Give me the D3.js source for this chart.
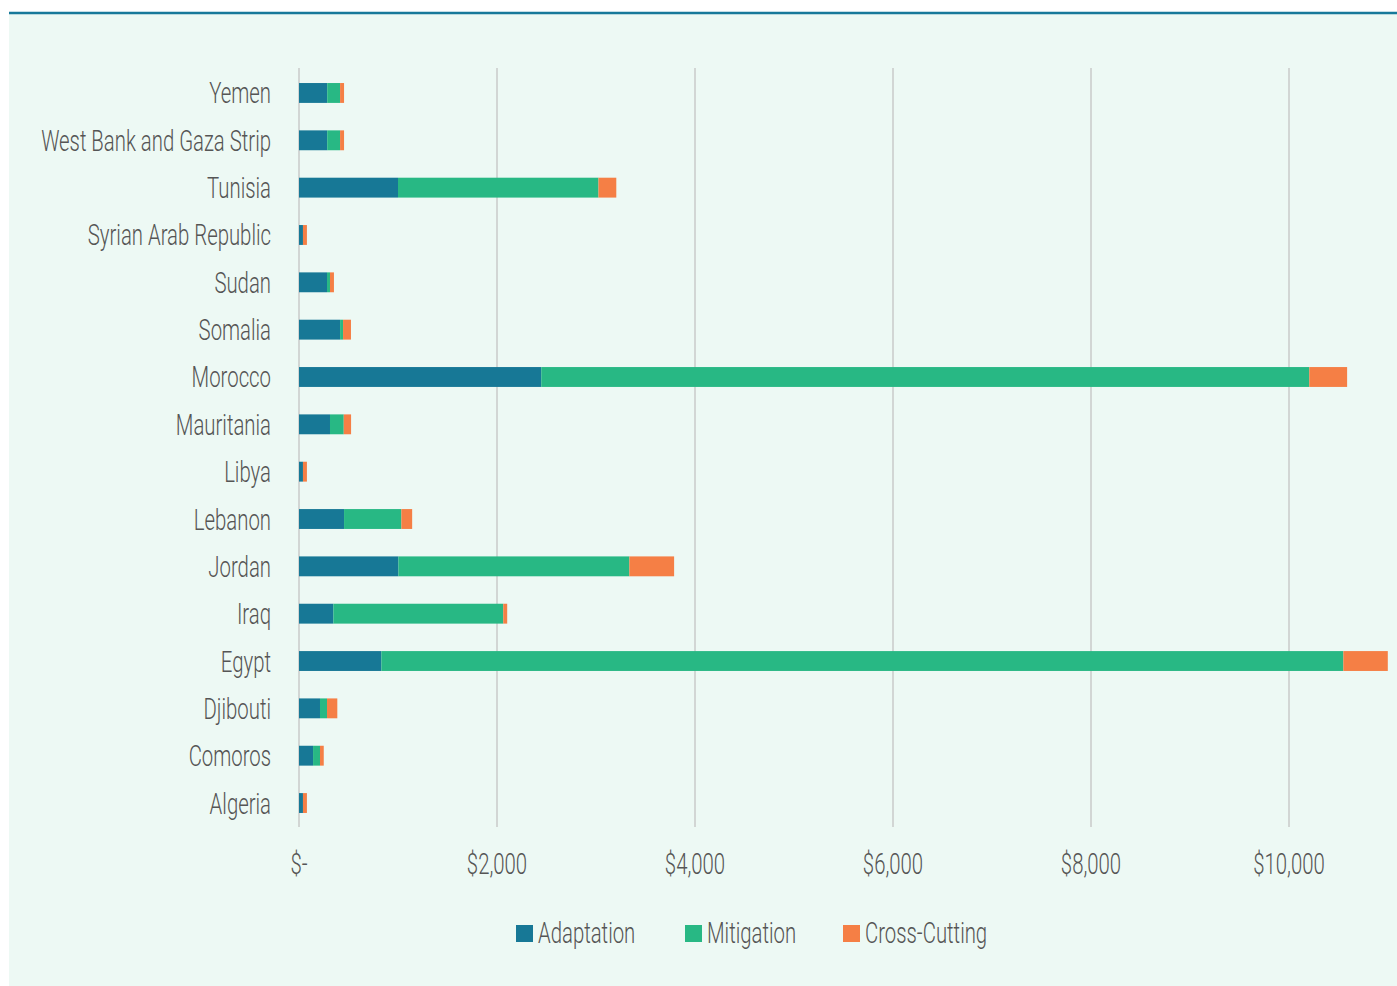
<!DOCTYPE html>
<html lang="en">
<head>
<meta charset="UTF-8">
<title>Climate finance by country</title>
<script src="https://d3js.org/d3.v7.min.js"></script>
<style>
    body { margin: 0; padding: 0; background: #ffffff; }
    svg { display: block; }
    text { font-family: Roboto, 'Liberation Sans', sans-serif; font-weight: 300; fill: #555555; }
</style>
</head>
<body>
<svg id="chart" width="1397" height="986"></svg>
<script>
    // Data (USD millions), top to bottom
    const countries = ["Yemen", "West Bank and Gaza Strip", "Tunisia", "Syrian Arab Republic", "Sudan",
        "Somalia", "Morocco", "Mauritania", "Libya", "Lebanon", "Jordan", "Iraq", "Egypt",
        "Djibouti", "Comoros", "Algeria"];
    const adaptation = [285, 285, 1000, 40, 283, 415, 2447, 313, 40, 455, 1004, 347, 832, 212, 142, 40];
    const mitigation = [130, 130, 2025, 0, 30, 30, 7758, 139, 0, 579, 2333, 1716, 9717, 71, 70, 0];
    const crossCutting = [40, 40, 180, 40, 40, 80, 382, 74, 40, 109, 452, 40, 449, 104, 38, 40];
    const seriesNames = ["Adaptation", "Mitigation", "Cross-Cutting"];
    const colors = ["#177896", "#28b884", "#f57f45"];
    const tickValues = [0, 2000, 4000, 6000, 8000, 10000];

    const table = countries.map((c, i) => ({
        country: c,
        "Adaptation": adaptation[i],
        "Mitigation": mitigation[i],
        "Cross-Cutting": crossCutting[i]
    }));

    const svg = d3.select("#chart");

    // panel background and top rule
    svg.append("rect").attr("x", 9).attr("y", 14).attr("width", 1388).attr("height", 972).attr("fill", "#edf9f4");
    svg.append("line").attr("x1", 9).attr("x2", 1397).attr("y1", 13).attr("y2", 13)
        .attr("stroke", "#17799a").attr("stroke-width", 2.5);

    const x = d3.scaleLinear().domain([0, 11000]).range([299, 1388]);
    const y = d3.scaleBand().domain(countries).range([69.3, 826.7])
        .paddingInner(0.58).paddingOuter(0.29);

    // horizontal squeeze to mimic the condensed face
    const probe = svg.append("text").style("font-size", "29px").text("West Bank and Gaza Strip");
    const k = 230 / probe.node().getComputedTextLength();
    probe.remove();

    // gridlines
    svg.append("g").selectAll("line").data(tickValues).join("line")
        .attr("x1", d => x(d)).attr("x2", d => x(d))
        .attr("y1", 68).attr("y2", 827)
        .attr("stroke", "#d2d6d4").attr("stroke-width", 2);

    // stacked bars
    const stack = d3.stack().keys(seriesNames)(table);
    svg.append("g").selectAll("g").data(stack).join("g")
        .attr("fill", (d, i) => colors[i])
        .selectAll("rect").data(d => d).join("rect")
        .attr("x", d => x(d[0]))
        .attr("width", d => x(d[1]) - x(d[0]))
        .attr("y", d => y(d.data.country))
        .attr("height", y.bandwidth());

    // category labels
    svg.append("g").selectAll("text").data(countries).join("text")
        .attr("transform", d => `translate(271,${y(d) + y.bandwidth() / 2 + 10.5}) scale(${k},1)`)
        .attr("text-anchor", "end")
        .style("font-size", "29px")
        .text(d => d);

    // x tick labels
    const fmt = d3.format(",");
    svg.append("g").selectAll("text").data(tickValues).join("text")
        .attr("transform", d => `translate(${x(d)},874) scale(${k},1)`)
        .attr("text-anchor", "middle")
        .style("font-size", "29px")
        .text(d => d === 0 ? "$-" : "$" + fmt(d));

    // legend
    const legendX = [516, 685, 843];
    const legend = svg.append("g").selectAll("g").data(seriesNames).join("g")
        .attr("transform", (d, i) => `translate(${legendX[i]},925)`);
    legend.append("rect").attr("width", 17).attr("height", 17).attr("fill", (d, i) => colors[i]);
    legend.append("text")
        .attr("transform", `translate(22,17.5) scale(${k},1)`)
        .style("font-size", "29px")
        .text(d => d);
</script>
</body>
</html>
